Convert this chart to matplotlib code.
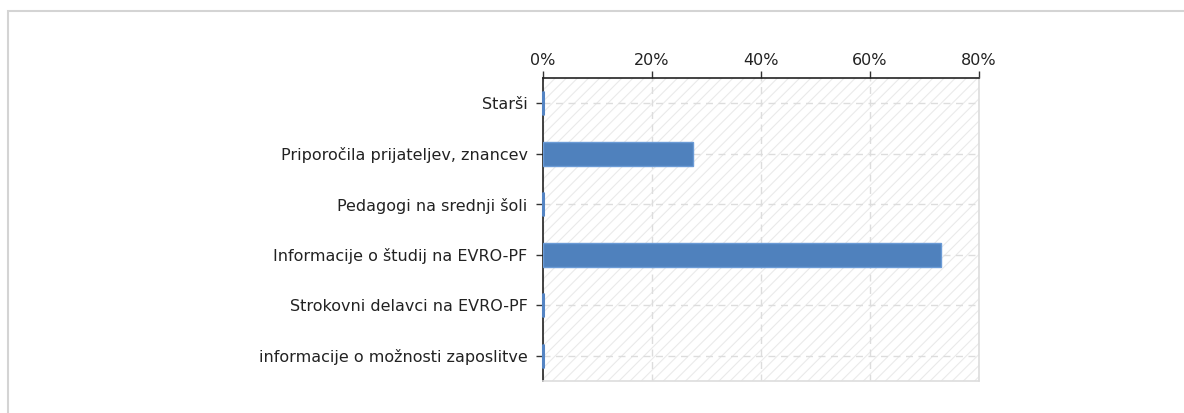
import matplotlib
matplotlib.use("Agg")
import matplotlib.pyplot as plt
from matplotlib.patches import Rectangle
from matplotlib.ticker import FuncFormatter

categories = [
    "Starši",
    "Priporočila prijateljev, znancev",
    "Pedagogi na srednji šoli",
    "Informacije o študij na EVRO-PF",
    "Strokovni delavci na EVRO-PF",
    "informacije o možnosti zaposlitve",
]
values = [0.0, 27.6, 0.0, 73.0, 0.0, 0.0]
xticks = [0, 20, 40, 60, 80]

plt.rcParams['font.family'] = ['DejaVu Sans']
plt.rcParams['hatch.linewidth'] = 0.8

fig = plt.figure(figsize=(11.84, 4.13), dpi=100)
fig.patches.append(Rectangle((8 / 1184, -0.1), 1.2, 1 - 11 / 413 + 0.1,
                             transform=fig.transFigure, fill=False,
                             edgecolor='#d4d4d4', linewidth=1.5, zorder=0))

ax = fig.add_axes([543 / 1184, 1 - 381 / 413, (979 - 543) / 1184, (381 - 78) / 413])

ax.add_patch(Rectangle((0, 0), 1, 1, transform=ax.transAxes, fill=False,
                       hatch='///', edgecolor='#eaeaea', linewidth=0, zorder=0))

y = list(range(len(categories)))
bar_h = 0.47
ax.barh(y, values, height=bar_h, color='#4f81bd', edgecolor='#6b9bd6',
        linewidth=1.0, zorder=4)

# zero-valued bars appear as a thin sliver on the axis line
zero_y = [yi for yi, v in zip(y, values) if v == 0]
zero_v = [v for v in values if v == 0]
ax.vlines(zero_v, [yi - bar_h / 2 for yi in zero_y], [yi + bar_h / 2 for yi in zero_y],
          colors='#5585c4', linewidth=2.2, zorder=5, clip_on=False)

ax.set_xlim(0, 80)
ax.set_ylim(len(categories) - 0.5, -0.5)
ax.set_yticks(y)
ax.set_yticklabels(categories)
ax.set_xticks(xticks)
ax.xaxis.set_major_formatter(FuncFormatter(lambda v, p: f"{int(v)}%"))
ax.xaxis.tick_top()

ax.grid(True, color='#dddddd', linestyle=(0, (5, 4)), linewidth=1, zorder=1)
ax.set_axisbelow(True)

for s in ['left', 'top']:
    ax.spines[s].set_color('#222222')
    ax.spines[s].set_linewidth(1.2)
for s in ['right', 'bottom']:
    ax.spines[s].set_color('#dddddd')
    ax.spines[s].set_linewidth(1.2)

ax.tick_params(axis='both', length=5, width=1, color='#333333',
               labelsize=11.5, labelcolor='#222222')
ax.tick_params(axis='y', pad=6)
ax.tick_params(axis='x', pad=2)

fig.savefig("out.png", dpi=100)
